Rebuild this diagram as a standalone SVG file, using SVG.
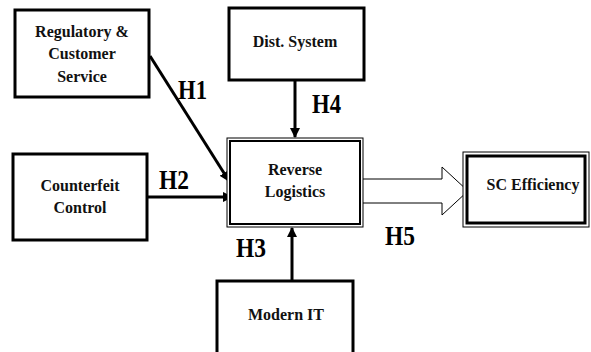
<svg xmlns="http://www.w3.org/2000/svg" width="591" height="352" viewBox="0 0 591 352">
<style>
.box{fill:#fff;stroke:#000;stroke-width:3}
.t{font-family:"Liberation Serif","Times New Roman",serif;font-weight:bold;font-size:16px;text-anchor:middle;fill:#111}
.h{font-family:"Liberation Serif","Times New Roman",serif;font-weight:bold;font-size:27px;fill:#000}
.ln{stroke:#000;stroke-width:3;fill:none}
</style>
<defs>
<marker id="ah" viewBox="0 0 10 10" refX="9" refY="5" markerWidth="3.5" markerHeight="3.5" orient="auto"><path d="M0,0 L10,5 L0,10 z" fill="#000"/></marker>
</defs>
<rect width="591" height="352" fill="#fff"/>
<g id="connectors">
<line class="ln" x1="150" y1="56" x2="229" y2="181" marker-end="url(#ah)"/>
<line class="ln" x1="147" y1="197" x2="232" y2="197" marker-end="url(#ah)"/>
<line class="ln" x1="295" y1="80" x2="295" y2="137" marker-end="url(#ah)"/>
<line class="ln" x1="292" y1="281" x2="292" y2="228" marker-end="url(#ah)"/>
<path d="M363,179 L442,179 L442,167 L468,191 L442,215 L442,203 L363,203" fill="#fff" stroke="#000" stroke-width="1"/>
</g>
<g id="regulatory"><rect class="box" x="15" y="10" width="134" height="87"/>
<text class="t" x="82" y="37">Regulatory &amp;</text><text class="t" x="82" y="59">Customer</text><text class="t" x="82" y="82">Service</text></g>
<g id="dist"><rect class="box" x="229" y="8" width="135" height="72"/><text class="t" x="295" y="47">Dist. System</text></g>
<g id="counterfeit"><rect class="box" x="13" y="154" width="134" height="86"/>
<text class="t" x="80" y="191">Counterfeit</text><text class="t" x="80" y="213">Control</text></g>
<g id="reverse"><rect x="227" y="138" width="136" height="89" fill="#fff" stroke="#000" stroke-width="1"/><rect x="230" y="141" width="130" height="83" fill="none" stroke="#000" stroke-width="2"/>
<text class="t" x="295" y="175">Reverse</text><text class="t" x="295" y="197">Logistics</text></g>
<g id="sc"><rect x="463" y="152" width="126" height="75" fill="#fff" stroke="#000" stroke-width="1"/><rect x="467" y="156" width="118" height="67" fill="none" stroke="#000" stroke-width="3"/>
<text class="t" x="533" y="190">SC Efficiency</text></g>
<g id="modern"><rect class="box" x="217" y="281" width="136" height="80"/><text class="t" x="286" y="320">Modern IT</text></g>
<g id="labels">
<text class="h" x="178" y="99" textLength="29" lengthAdjust="spacingAndGlyphs">H1</text>
<text class="h" x="159" y="189" textLength="30" lengthAdjust="spacingAndGlyphs">H2</text>
<text class="h" x="236" y="257" textLength="30" lengthAdjust="spacingAndGlyphs">H3</text>
<text class="h" x="312" y="113" textLength="29" lengthAdjust="spacingAndGlyphs">H4</text>
<text class="h" x="385" y="245" textLength="30" lengthAdjust="spacingAndGlyphs">H5</text>
</g>
</svg>
